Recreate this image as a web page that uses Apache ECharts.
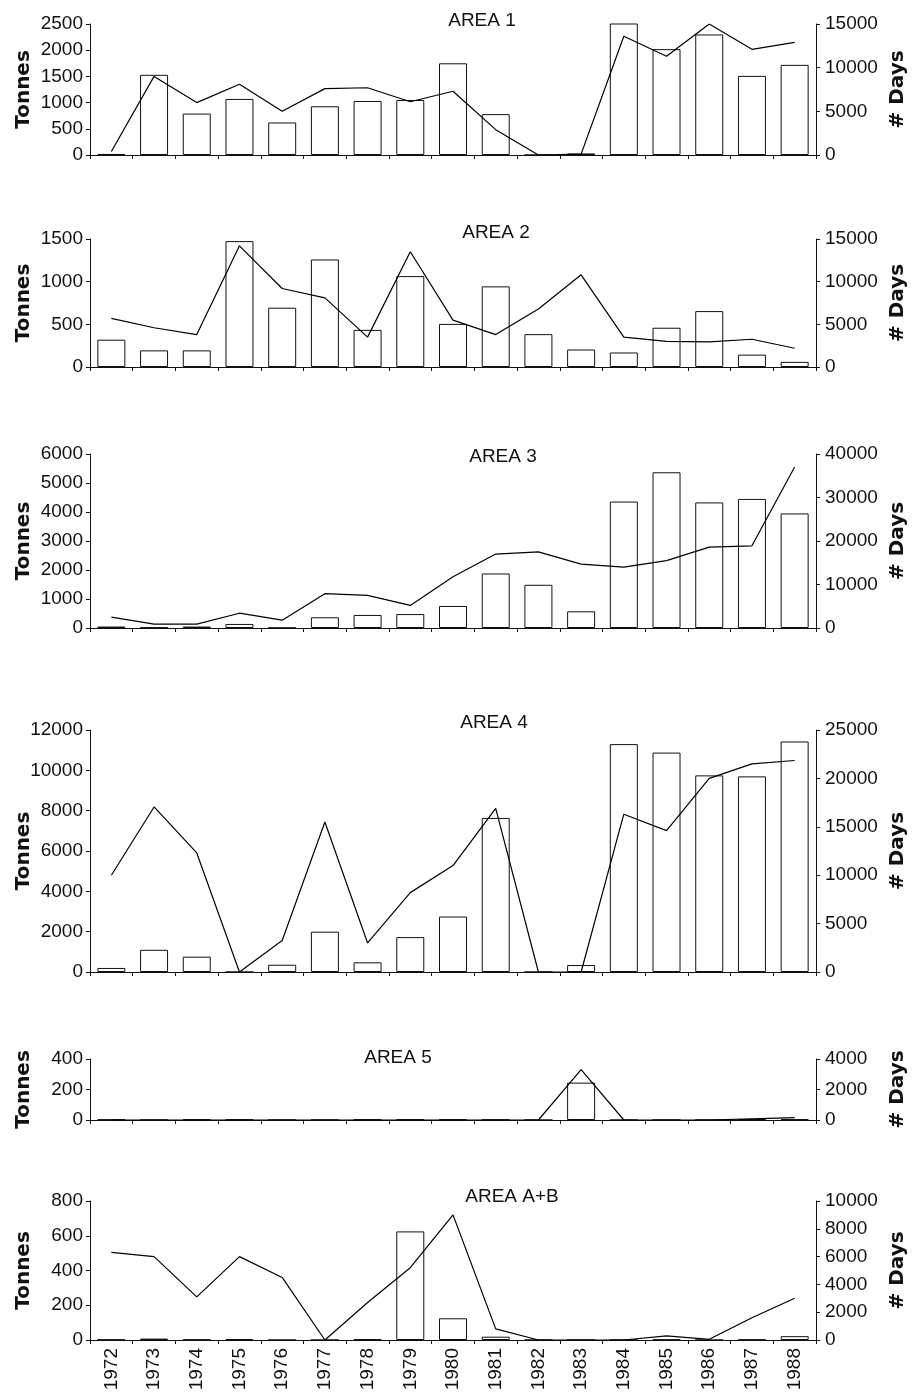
<!DOCTYPE html>
<html>
<head>
<meta charset="utf-8">
<title>Catch and effort by area, 1972-1988</title>
<script src="https://cdn.jsdelivr.net/npm/echarts@6/dist/echarts.min.js"></script>
<style>
  html, body { margin: 0; padding: 0; background: #ffffff; }
  #chart { width: 915px; height: 1395px; }
</style>
</head>
<body>
<div id="chart"></div>
<script>
// Fishing years
const years = ['1972', '1973', '1974', '1975', '1976', '1977', '1978', '1979', '1980',
               '1981', '1982', '1983', '1984', '1985', '1986', '1987', '1988'];

// Catch (tonnes, bars) and effort (# days, line) per area
const area1Tonnes = [20, 1530, 790, 1070, 620, 930, 1030, 1050, 1750, 780, 0, 30, 2520, 2020, 2300, 1510, 1720];
const area1Days   = [400, 9000, 6000, 8100, 5000, 7600, 7700, 6100, 7300, 2900, 0, 100, 13600, 11300, 15000, 12100, 12900];

const area2Tonnes = [320, 195, 195, 1475, 695, 1260, 435, 1065, 505, 945, 385, 205, 170, 460, 655, 145, 60];
const area2Days   = [5700, 4600, 3800, 14200, 9200, 8100, 3500, 13500, 5500, 3800, 6800, 10800, 3500, 3000, 2950, 3250, 2200];

const area3Tonnes = [50, 20, 50, 140, 10, 370, 450, 480, 760, 1880, 1490, 575, 4360, 5370, 4330, 4450, 3950];
const area3Days   = [2500, 900, 900, 3400, 1800, 7900, 7500, 5200, 11800, 17000, 17500, 14700, 14000, 15500, 18600, 18900, 37000];

const area4Tonnes = [200, 1100, 760, 0, 360, 2000, 480, 1730, 2750, 7640, 0, 345, 11300, 10880, 9750, 9700, 11430];
const area4Days   = [10000, 17050, 12300, 0, 3250, 15500, 3000, 8200, 11000, 16900, 0, 0, 16300, 14600, 20000, 21500, 21850];

const area5Tonnes = [3, 0, 3, 3, 0, 0, 3, 3, 3, 2, 0, 245, 0, 0, 0, 5, 5];
const area5Days   = [0, 0, 0, 0, 0, 0, 0, 0, 0, 0, 0, 3300, 0, 0, 0, 80, 150];

const areaABTonnes = [2, 8, 2, 5, 0, 0, 4, 625, 125, 19, 0, 0, 0, 3, 0, 2, 22];
const areaABDays   = [6300, 6000, 3100, 6000, 4500, 0, 2700, 5200, 9000, 800, 0, 0, 0, 300, 50, 1600, 3000];

// Panel titles and axis scales [max, interval]
const panelTitles = ['AREA 1', 'AREA 2', 'AREA 3', 'AREA 4', 'AREA 5', 'AREA A+B'];
const tonnesScale = [[2500, 500], [1500, 500], [6000, 1000], [12000, 2000], [400, 200], [800, 200]];
const daysScale   = [[15000, 5000], [15000, 5000], [40000, 10000], [25000, 5000], [4000, 2000], [10000, 2000]];
const tonnesData  = [area1Tonnes, area2Tonnes, area3Tonnes, area4Tonnes, area5Tonnes, areaABTonnes];
const daysData    = [area1Days, area2Days, area3Days, area4Days, area5Days, areaABDays];

// Page layout of the six stacked panels (pixels)
const plotLeft = 90, plotRight = 816;
const panelBox = [
  { top: 24,   bottom: 155,  titleX: 482, titleY: 21 },
  { top: 239,  bottom: 367,  titleX: 496, titleY: 233 },
  { top: 454,  bottom: 628,  titleX: 503, titleY: 457 },
  { top: 730,  bottom: 972,  titleX: 494, titleY: 723 },
  { top: 1059, bottom: 1120, titleX: 398, titleY: 1058 },
  { top: 1201, bottom: 1340, titleX: 512, titleY: 1197 }
];

const FONT = '"Liberation Sans", Arial, sans-serif';
const NAME_FONT = '"DejaVu Sans", sans-serif';
const INK = '#111111';
const plain = v => String(v);   // tick values without thousands separators

const grid = [], xAxis = [], yAxis = [], series = [], graphic = [];

panelBox.forEach((box, i) => {
  const last = i === panelBox.length - 1;
  grid.push({ left: plotLeft, width: plotRight - plotLeft, top: box.top, height: box.bottom - box.top });

  xAxis.push({
    type: 'category', gridIndex: i, data: years, boundaryGap: true,
    axisLine: { lineStyle: { color: INK, width: 1 } },
    axisTick: { show: true, length: 4, lineStyle: { color: INK } },
    axisLabel: {
      show: last, interval: 0, rotate: 90, margin: 8,
      fontFamily: FONT, fontSize: 19, color: INK
    },
    splitLine: { show: false }
  });

  const yCommon = {
    type: 'value', gridIndex: i, min: 0,
    axisLine: { show: true, lineStyle: { color: INK, width: 1 } },
    axisTick: { show: true, length: 4, lineStyle: { color: INK } },
    splitLine: { show: false }
  };
  yAxis.push(Object.assign({}, yCommon, {
    position: 'left', max: tonnesScale[i][0], interval: tonnesScale[i][1],
    axisLabel: { margin: 7, fontFamily: FONT, fontSize: 19, color: INK, formatter: plain }
  }));
  yAxis.push(Object.assign({}, yCommon, {
    position: 'right', max: daysScale[i][0], interval: daysScale[i][1],
    axisLabel: { margin: 9, fontFamily: FONT, fontSize: 19, color: INK, formatter: plain }
  }));

  series.push({
    type: 'bar', xAxisIndex: i, yAxisIndex: 2 * i, data: tonnesData[i],
    barWidth: 28, z: 2,
    itemStyle: { color: '#ffffff', borderColor: INK, borderWidth: 1 }
  });
  series.push({
    type: 'line', xAxisIndex: i, yAxisIndex: 2 * i + 1, data: daysData[i],
    symbol: 'none', z: 3,
    lineStyle: { color: '#000000', width: 1.2 }
  });

  const midY = (box.top + box.bottom) / 2;
  graphic.push({
    type: 'text', x: box.titleX, y: box.titleY, z: 10,
    style: { text: panelTitles[i], font: '19px ' + FONT, fill: INK, align: 'center', verticalAlign: 'middle' }
  });
  graphic.push({
    type: 'text', x: 24, y: midY, rotation: Math.PI / 2, z: 10,
    style: { text: 'Tonnes', font: 'bold 20px ' + NAME_FONT, fill: INK, align: 'center', verticalAlign: 'middle' }
  });
  graphic.push({
    type: 'text', x: 898, y: midY, rotation: Math.PI / 2, z: 10,
    style: { text: '# Days', font: 'bold 20px ' + NAME_FONT, fill: INK, align: 'center', verticalAlign: 'middle' }
  });
});

const chart = echarts.init(document.getElementById('chart'), null, { renderer: 'canvas' });
chart.setOption({
  backgroundColor: '#ffffff',
  animation: false,
  grid, xAxis, yAxis, series, graphic
});
</script>
</body>
</html>
